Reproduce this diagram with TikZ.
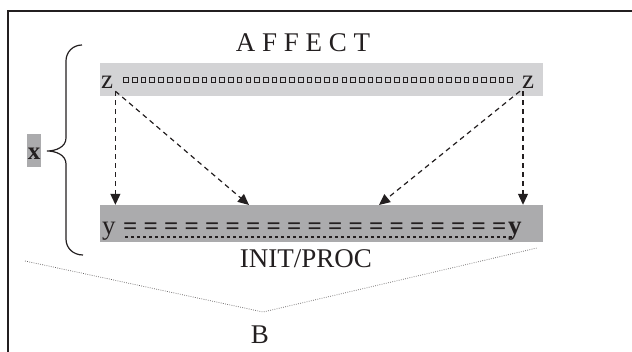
\documentclass[tikz,border=0pt]{standalone}
\usepackage{fontspec}
\setmainfont{Liberation Serif}
\usetikzlibrary{arrows.meta,calc}
\definecolor{tinta}{HTML}{231F20}
\definecolor{grisclaro}{HTML}{D3D3D5}
\definecolor{grisoscuro}{HTML}{ABABAD}
\tikzset{
  letra/.style={font=\fontsize{27}{32}\selectfont,text=tinta,inner sep=0pt},
  barra/.style={draw=none,inner sep=0pt,minimum width=443pt},
  flecha/.style={-{Triangle[length=11pt,width=10pt]},line width=1.2pt,dash pattern=on 5pt off 4pt,color=tinta},
  punteo/.style={line width=0.7pt,dash pattern=on 0.8pt off 1.4pt,color=tinta!70},
  subrayado/.style={line width=2.3pt,dash pattern=on 3.3pt off 2.7pt,color=tinta},
  cuadro/.style={line width=0.8pt,draw=tinta},
  llave/.style={line width=1.2pt,color=tinta},
}
\begin{document}
\begin{tikzpicture}[x=1pt,y=1pt]
  \useasboundingbox (0,0) rectangle (632,352);
  % marco
  \draw[line width=1.3pt,tinta] (8,-2) -- (8,341) -- (634,341);
  % barras
  \node[barra,fill=grisclaro,minimum height=33pt] (zbar) at (321.5,272.5) {};
  \node[barra,fill=grisoscuro,minimum height=37pt] (ybar) at (321.5,128.5) {};
  \node[letra,anchor=base] (affect) at (303,300) {A F F E C T};
  \node[letra,anchor=base west,inner sep=2pt] (zl) at (99,263) {z};
  \node[letra,anchor=base west,inner sep=2pt] (zr) at (520,263) {z};
  \foreach \i in {0,...,44}
    \draw[cuadro] ({126+\i*8.73-2.3},269.5) rectangle ++(4.6,4.6);
  \node[letra,anchor=base west,inner sep=2pt] (yl) at (100,117) {y};
  \node[letra,anchor=base west,font=\fontsize{25}{30}\selectfont\bfseries] (igual) at (123,117) {= = = = = = = = = = = = = = = = = = =};
  \node[letra,anchor=base west,inner sep=2pt,font=\fontsize{27}{32}\selectfont\bfseries] (yr) at (506,117) {y};
  \draw[subrayado] (125,115) -- (512,115);
  % flechas
  \coordinate (d1) at (249,147);
  \coordinate (d2) at (379,147);
  \draw[flecha] (zl.south east) -- (zl.south east |- ybar.north);
  \draw[flecha] (zl.south east) -- (d1);
  \draw[flecha] (zr.south west) -- (d2);
  \draw[flecha] ([xshift=3pt]zr.south west) -- ([xshift=3pt]zr.south west |- ybar.north);
  % llave
  \draw[llave] (82,307) .. controls (73,307) and (66,300) .. (66,291) -- (66,214)
    .. controls (66,205) and (56,201) .. (47,201)
    .. controls (56,201) and (66,197) .. (66,188) -- (66,113)
    .. controls (66,104) and (73,97) .. (83,97);
  \node[letra,fill=grisoscuro,minimum width=14pt,minimum height=33pt,text height=19pt,
    font=\fontsize{25}{30}\selectfont\bfseries] (xlab) at (34,201.5) {x};
  \node[letra,anchor=base] (init) at (306,84) {INIT/PROC};
  % V punteada
  \coordinate (vl) at (25,91);
  \coordinate (vb) at (263,40);
  \coordinate (vr) at (537,104);
  \draw[punteo] (vl) -- (vb) -- (vr);
  \node[letra,anchor=base] (b) at (260,8) {B};
\end{tikzpicture}
\end{document}
